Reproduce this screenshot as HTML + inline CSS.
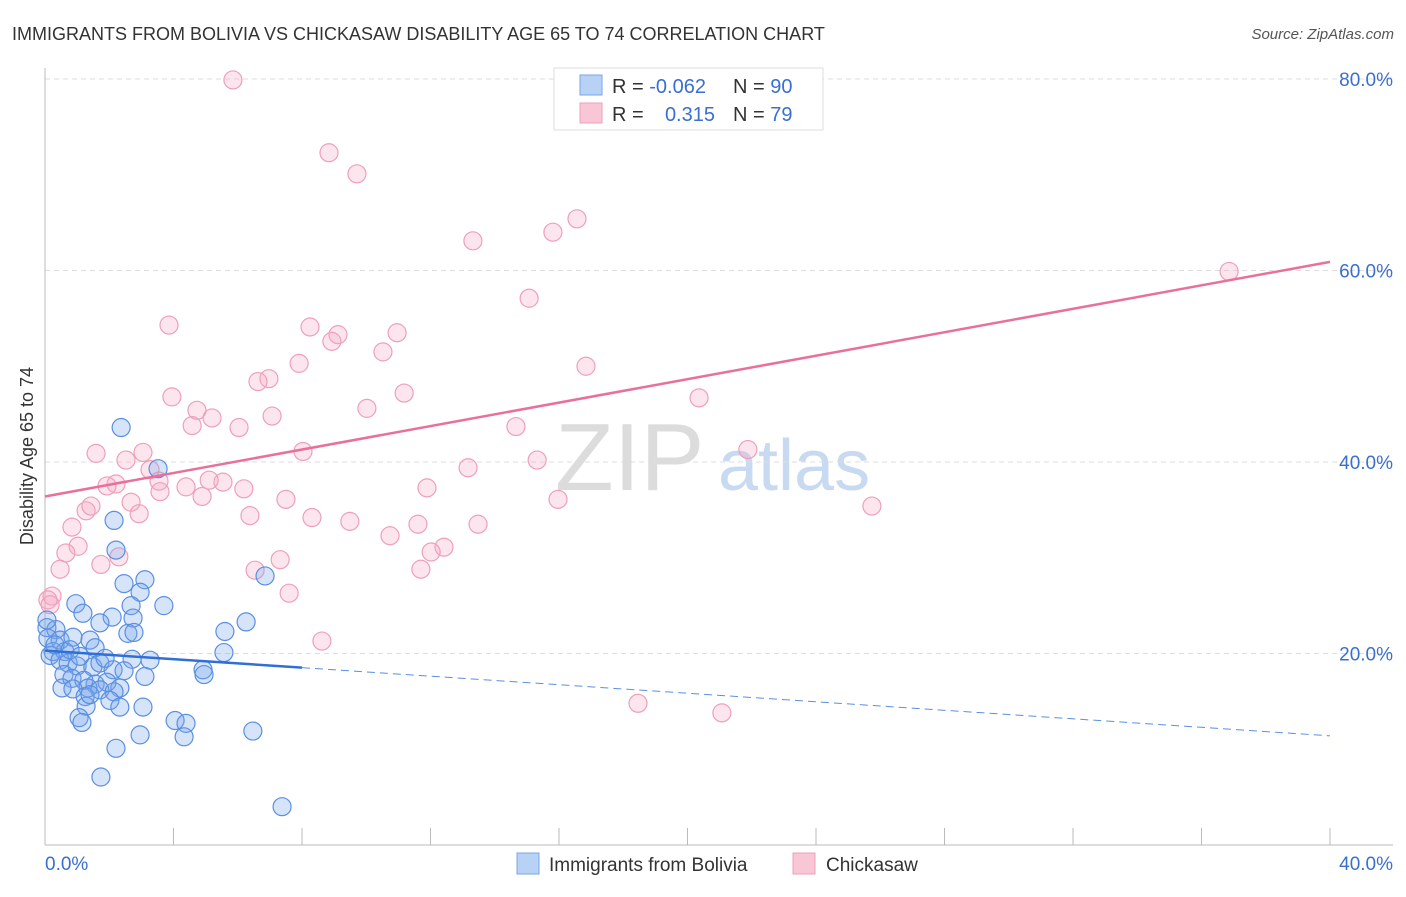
<!DOCTYPE html>
<html><head><meta charset="utf-8"><style>
body{margin:0;background:#fff;font-family:"Liberation Sans",sans-serif;}
svg text{font-family:"Liberation Sans",sans-serif;}
</style></head><body>
<svg id="chart" width="1406" height="892" viewBox="0 0 1406 892" xmlns="http://www.w3.org/2000/svg">
<text x="12" y="40" font-size="18" fill="#333">IMMIGRANTS FROM BOLIVIA VS CHICKASAW DISABILITY AGE 65 TO 74 CORRELATION CHART</text>
<text x="1394" y="39" font-size="15" fill="#555" text-anchor="end" font-style="italic">Source: ZipAtlas.com</text>
<g>
<text x="555" y="490" font-size="96" fill="#dcdcdc" font-family="Liberation Serif, serif">ZIP</text>
<text x="718" y="490" font-size="72" fill="#c8daf2">atlas</text>
</g>
<g id="grid"></g>
<g id="axes"></g>
<g id="pink"></g>
<g id="blue"></g>
<g id="trends"></g>
<text transform="translate(33,456) rotate(-90)" font-size="18" fill="#333" text-anchor="middle">Disability Age 65 to 74</text>
<g>
<rect x="554" y="68" width="269" height="62" fill="#fff" stroke="#ddd"/>
<rect x="580" y="75" width="22" height="20" fill="#b8d2f5" stroke="#7aa5e6"/>
<rect x="580" y="103" width="22" height="20" fill="#f8c6d4" stroke="#eea0b8"/>
<text x="612" y="93" font-size="20" fill="#333">R = <tspan fill="#3a6fd0">-0.062</tspan></text>
<text x="733" y="93" font-size="20" fill="#333">N = <tspan fill="#3a6fd0">90</tspan></text>
<text x="612" y="121" font-size="20" fill="#333">R = </text>
<text x="715" y="121" font-size="20" fill="#3a6fd0" text-anchor="end">0.315</text>
<text x="733" y="121" font-size="20" fill="#333">N = <tspan fill="#3a6fd0">79</tspan></text>
</g>
<g>
<rect x="517" y="853" width="22" height="21" fill="#b8d2f5" stroke="#7aa5e6"/>
<text x="549" y="871" font-size="19" fill="#333">Immigrants from Bolivia</text>
<rect x="793" y="853" width="22" height="21" fill="#f8c6d4" stroke="#eea0b8"/>
<text x="826" y="871" font-size="19" fill="#333">Chickasaw</text>
</g>
</svg>
<script>
const yTicks=[20,40,60,80];
const yTickLabels=["20.0%","40.0%","60.0%","80.0%"];
const xTickLabels=["0.0%","40.0%"];
const blueX=[2.37,3.52,2.15,2.21,3.11,2.46,2.96,6.85,0.96,1.18,2.68,3.70,2.09,2.74,6.26,1.71,2.58,2.77,5.60,0.06,0.34,0.47,1.40,0.87,0.09,1.56,0.25,0.62,3.27,2.71,5.57,0.16,0.47,0.72,1.00,1.49,1.71,2.12,2.46,3.11,4.92,4.95,0.59,0.84,1.21,1.56,1.93,2.33,1.34,0.53,0.87,1.71,2.15,1.25,2.02,1.28,2.33,3.05,1.06,1.15,4.05,4.39,4.33,2.96,2.21,6.47,1.74,7.38,0.06,0.31,0.78,1.09,1.87,1.40];
const blueY=[43.6,39.3,33.9,30.8,27.7,27.3,26.4,28.1,25.2,24.2,25.0,25.0,23.8,23.7,23.3,23.2,22.1,22.2,22.3,22.7,22.5,21.4,21.4,21.7,21.6,20.6,20.2,20.2,19.3,19.4,20.1,19.8,19.3,19.0,18.7,18.6,19.0,18.3,18.2,17.6,18.3,17.8,17.8,17.4,17.2,16.8,17.0,16.4,16.4,16.4,16.3,16.2,16.0,15.5,15.1,14.5,14.4,14.4,13.3,12.8,13.0,12.7,11.3,11.5,10.1,11.9,7.1,4.0,23.5,20.9,20.4,19.7,19.5,15.7];
const pinkX=[5.85,8.84,9.71,13.32,15.81,16.56,15.07,36.86,3.86,8.25,9.12,8.93,10.96,10.52,7.91,16.84,6.97,6.63,3.95,11.18,4.73,5.20,10.02,7.07,20.36,4.58,6.04,14.66,8.03,1.59,3.05,2.52,15.32,21.88,3.27,13.17,3.55,4.39,2.21,1.93,5.54,5.11,3.58,6.19,4.89,11.89,1.28,1.43,2.68,2.93,7.50,6.38,15.97,25.74,8.31,9.49,11.61,13.48,0.84,10.74,1.03,0.65,2.30,12.42,12.02,1.74,7.32,0.47,11.70,6.54,7.60,0.22,0.09,8.62,18.46,21.07,0.16];
const pinkY=[79.9,72.3,70.1,63.1,64.0,65.4,57.1,59.9,54.3,54.1,53.3,52.6,53.5,51.5,50.3,50.0,48.7,48.4,46.8,47.2,45.4,44.6,45.6,44.8,46.7,43.8,43.6,43.7,41.1,40.9,41.0,40.2,40.2,41.3,39.2,39.4,38.0,37.4,37.7,37.5,37.9,38.1,36.9,37.2,36.4,37.3,34.9,35.4,35.8,34.6,36.1,34.4,36.1,35.4,34.2,33.8,33.5,33.5,33.2,32.3,31.2,30.5,30.1,31.1,30.6,29.3,29.8,28.8,28.8,28.7,26.3,26.0,25.6,21.3,14.8,13.8,25.1];
const blueTrend=[20.3,-0.2225];
const pinkTrend=[36.4,0.6125];
const NS="http://www.w3.org/2000/svg";
const X0=45,X1=1330,Y0=845,PXY=9.575;
function sx(v){return X0+v*(X1-X0)/40;}
function sy(v){return Y0-v*PXY;}
function mk(tag,attrs,parent){const e=document.createElementNS(NS,tag);for(const k in attrs)e.setAttribute(k,attrs[k]);parent.appendChild(e);return e;}
const grid=document.getElementById('grid'),axes=document.getElementById('axes');
yTicks.forEach((t,i)=>{
 const l=mk('line',{x1:X0,x2:1393,y1:sy(t),y2:sy(t),stroke:'#ddd','stroke-dasharray':'5,4'},grid);
 
 
 const tx=mk('text',{x:1393,y:sy(t)+7,'font-size':19,fill:'#3a6fd0','text-anchor':'end'},axes);
 tx.textContent=yTickLabels[i];
 
 
});
let a=mk('line',{x1:X0,x2:X0,y1:68,y2:Y0,stroke:'#bbb'},axes);


a=mk('line',{x1:X0,x2:1393,y1:Y0,y2:Y0,stroke:'#bbb'},axes);


for(let i=1;i<=10;i++){const t=mk('line',{x1:sx(i*4),x2:sx(i*4),y1:828,y2:Y0,stroke:'#bbb'},axes);
 
 }
let xl=mk('text',{x:45,y:870,'font-size':19,fill:'#3a6fd0'},axes);xl.textContent=xTickLabels[0];


xl=mk('text',{x:1393,y:870,'font-size':19,fill:'#3a6fd0','text-anchor':'end'},axes);xl.textContent=xTickLabels[1];


const pg=document.getElementById('pink');
pinkX.forEach((x,i)=>{const c=mk('circle',{cx:sx(x),cy:sy(pinkY[i]),r:9,fill:'rgba(244,170,195,0.3)',stroke:'#eea0b8','stroke-width':1.2},pg);
 
 });
const bg=document.getElementById('blue');
blueX.forEach((x,i)=>{const c=mk('circle',{cx:sx(x),cy:sy(blueY[i]),r:9,fill:'rgba(120,165,235,0.3)',stroke:'#5b8fe0','stroke-width':1.2},bg);
 
 });
const tg=document.getElementById('trends');
const f=(t,x)=>t[0]+t[1]*x;
let l=mk('line',{x1:sx(0),y1:sy(f(pinkTrend,0)),x2:sx(40),y2:sy(f(pinkTrend,40)),stroke:'#e8709a','stroke-width':2.5},tg);


l=mk('line',{x1:sx(0),y1:sy(f(blueTrend,0)),x2:sx(8),y2:sy(f(blueTrend,8)),stroke:'#2f6fd6','stroke-width':2.5},tg);


l=mk('line',{x1:sx(8),y1:sy(f(blueTrend,8)),x2:sx(40),y2:sy(f(blueTrend,40)),stroke:'#5b8fe0','stroke-width':1,'stroke-dasharray':'8,5'},tg);


</script>
</body></html>
